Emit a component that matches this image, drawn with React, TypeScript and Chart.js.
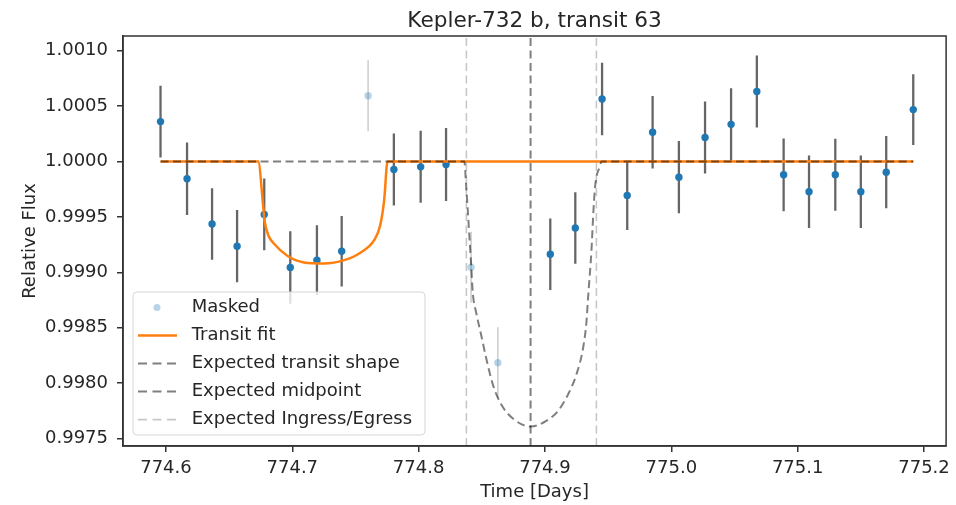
import React, { useEffect, useRef } from "react";
import { Chart, registerables } from "chart.js";

Chart.register(...registerables);

const TITLE = "Kepler-732 b, transit 63";
const X_LABEL = "Time [Days]";
const Y_LABEL = "Relative Flux";

const LABEL_MASKED = "Masked";
const LABEL_FIT = "Transit fit";
const LABEL_SHAPE = "Expected transit shape";
const LABEL_MID = "Expected midpoint";
const LABEL_INGRESS = "Expected Ingress/Egress";

// Observed (unmasked) points
const obsTime = [
  774.5957, 774.6167, 774.6365, 774.6563, 774.6778, 774.6984, 774.7195, 774.7391,
  774.7804, 774.8016, 774.8217, 774.9042, 774.924, 774.9452, 774.9651, 774.9852,
  775.006, 775.0267, 775.0473, 775.0677, 775.0889, 775.109, 775.1298, 775.15,
  775.1701, 775.1915,
];
const obsFlux = [
  1.00036, 0.999844, 0.999436, 0.999236, 0.999523, 0.999044, 0.99911, 0.999191,
  0.999928, 0.999952, 0.999973, 0.999164, 0.9994, 1.000564, 0.999694, 1.000264,
  0.999859, 1.000216, 1.000335, 1.000632, 0.99988, 0.999727, 0.99988, 0.999727,
  0.999904, 1.000468,
];
const obsErr = [
  0.000324, 0.000327, 0.000322, 0.000326, 0.000323, 0.000326, 0.000315, 0.000318,
  0.000325, 0.000325, 0.000329, 0.000322, 0.000322, 0.000327, 0.000312, 0.000327,
  0.000325, 0.000325, 0.000325, 0.000325, 0.000328, 0.000327, 0.000325, 0.000327,
  0.000325, 0.000318,
];

// Masked points
const maskTime = [774.76, 774.8415, 774.8627];
const maskFlux = [1.000593, 0.999047, 0.998186];
const maskErr = [0.00032, 0.00032, 0.00032];

// Transit fit curve
const fitTime = [
  774.5957, 774.673, 774.677, 774.678, 774.6812, 774.6854, 774.696, 774.7092,
  774.7251, 774.741, 774.7542, 774.7648, 774.7695, 774.7727, 774.7754, 775.1915,
];
const fitFlux = [
  1.0, 1.0, 0.99959, 0.99947, 0.99933, 0.99926, 0.99915, 0.99909,
  0.99908, 0.99911, 0.99918, 0.99929, 0.99942, 0.99965, 1.0, 1.0,
];

// Expected transit shape
const shapeTime = [
  774.5957, 774.8362, 774.8375, 774.8389, 774.8402, 774.8415, 774.8429, 774.8455,
  774.8494, 774.8534, 774.8587, 774.8653, 774.8759, 774.8886, 774.901, 774.9103,
  774.9183, 774.9249, 774.9302, 774.9328, 774.9341, 774.9368, 774.9381, 774.9394,
  774.9407, 774.9433, 774.9447, 775.1915,
];
const shapeFlux = [
  1.0, 1.0, 0.9998, 0.99956, 0.99932, 0.99908, 0.99881, 0.99864,
  0.99844, 0.99823, 0.99799, 0.99781, 0.99767, 0.99761, 0.99766, 0.99775,
  0.9979, 0.99808, 0.99832, 0.99855, 0.99877, 0.9992, 0.9995, 0.99974,
  0.99986, 0.99995, 1.0, 1.0,
];

const MIDPOINT = 774.8886;
const INGRESS = 774.8378;
const EGRESS = 774.9407;

const X_MIN = 774.566;
const X_MAX = 775.2175;
const Y_MIN = 0.997434;
const Y_MAX = 1.001132;

const xTicks = [774.6, 774.7, 774.8, 774.9, 775.0, 775.1, 775.2];
const yTicks = [0.9975, 0.998, 0.9985, 0.999, 0.9995, 1.0, 1.0005, 1.001];

const FONT = "'DejaVu Sans', sans-serif";
const TEXT = "#262626";
const BLUE = "#1f77b4";
const MASK_BLUE = "rgba(31,119,180,0.32)";
const ORANGE = "#ff7f0e";
const DARK_DASH = "rgba(0,0,0,0.5)";
const LIGHT_DASH = "rgba(0,0,0,0.22)";
const ERR = "rgba(0,0,0,0.6)";
const MASK_ERR = "rgba(0,0,0,0.22)";

const pts = (t: number[], f: number[]) => t.map((x, i) => ({ x, y: f[i] }));
const errSegs = (t: number[], f: number[], e: number[]) => {
  const out: { x: number; y: number | null }[] = [];
  t.forEach((x, i) => {
    out.push({ x, y: f[i] - e[i] }, { x, y: f[i] + e[i] }, { x, y: null });
  });
  return out;
};
const vline = (x: number) => [
  { x, y: Y_MIN },
  { x, y: Y_MAX },
];

const decorPlugin = {
  id: "decor",
  afterDraw(chart: any) {
    const { ctx, chartArea: a } = chart;
    ctx.save();
    // frame
    ctx.strokeStyle = "#333";
    ctx.lineWidth = 1.5;
    ctx.setLineDash([]);
    ctx.strokeRect(a.left, a.top, a.right - a.left, a.bottom - a.top);

    // title
    const cx = (a.left + a.right) / 2;
    ctx.fillStyle = TEXT;
    ctx.textAlign = "center";
    ctx.textBaseline = "alphabetic";
    ctx.font = `21.6px ${FONT}`;
    ctx.fillText(TITLE, cx, 27);
    // x label
    ctx.font = `18px ${FONT}`;
    ctx.fillText(X_LABEL, cx, 497);
    // y label
    ctx.save();
    ctx.translate(35, (a.top + a.bottom) / 2);
    ctx.rotate(-Math.PI / 2);
    ctx.fillText(Y_LABEL, 0, 0);
    ctx.restore();

    // legend
    const lx = a.left + 10;
    const lw = 292;
    const lh = 143;
    const ly = a.bottom - 11 - lh;
    ctx.beginPath();
    ctx.roundRect(lx, ly, lw, lh, 4);
    ctx.fillStyle = "rgba(255,255,255,0.8)";
    ctx.fill();
    ctx.strokeStyle = "#d6d6d6";
    ctx.lineWidth = 1;
    ctx.stroke();

    const entries = [
      { label: LABEL_MASKED, kind: "dot" },
      { label: LABEL_FIT, kind: "line", color: ORANGE, width: 2.5, dash: [] },
      { label: LABEL_SHAPE, kind: "line", color: DARK_DASH, width: 2, dash: [9, 5.5] },
      { label: LABEL_MID, kind: "line", color: DARK_DASH, width: 2, dash: [9, 5.5] },
      { label: LABEL_INGRESS, kind: "line", color: LIGHT_DASH, width: 1.6, dash: [9, 5.5] },
    ];
    entries.forEach((en: any, i: number) => {
      const ry = ly + 15.6 + i * 28;
      if (en.kind === "dot") {
        ctx.beginPath();
        ctx.arc(lx + 24, ry, 3.5, 0, Math.PI * 2);
        ctx.fillStyle = MASK_BLUE;
        ctx.fill();
      } else {
        ctx.beginPath();
        ctx.setLineDash(en.dash);
        ctx.strokeStyle = en.color;
        ctx.lineWidth = en.width;
        ctx.moveTo(lx + 5, ry);
        ctx.lineTo(lx + 44, ry);
        ctx.stroke();
        ctx.setLineDash([]);
      }
      ctx.fillStyle = TEXT;
      ctx.font = `18px ${FONT}`;
      ctx.textAlign = "left";
      ctx.textBaseline = "middle";
      ctx.fillText(en.label, lx + 58.7, ry);
    });
    ctx.restore();
  },
};

export default function App() {
  const ref = useRef<HTMLCanvasElement | null>(null);

  useEffect(() => {
    if (!ref.current) return;
    const chart = new Chart(ref.current, {
      type: "line",
      data: {
        datasets: [
          {
            label: LABEL_MID,
            data: vline(MIDPOINT),
            borderColor: DARK_DASH,
            borderWidth: 2,
            borderDash: [8, 4.5],
            pointRadius: 0,
            order: 0,
          } as any,
          {
            label: LABEL_INGRESS,
            data: vline(INGRESS),
            borderColor: LIGHT_DASH,
            borderWidth: 1.6,
            borderDash: [8, 4.5],
            pointRadius: 0,
            order: 1,
          },
          {
            label: LABEL_INGRESS + " (egress)",
            data: vline(EGRESS),
            borderColor: LIGHT_DASH,
            borderWidth: 1.6,
            borderDash: [8, 4.5],
            pointRadius: 0,
            order: 1,
          },
          {
            label: LABEL_SHAPE,
            data: pts(shapeTime, shapeFlux),
            borderColor: DARK_DASH,
            borderWidth: 2,
            borderDash: [8, 4.5],
            pointRadius: 0,
            cubicInterpolationMode: "monotone",
            order: 2,
          },
          {
            label: LABEL_FIT,
            data: pts(fitTime, fitFlux),
            borderColor: ORANGE,
            borderWidth: 2.5,
            pointRadius: 0,
            cubicInterpolationMode: "monotone",
            order: 3,
          },
          {
            label: "Data",
            data: pts(obsTime, obsFlux),
            showLine: false,
            pointRadius: 3.7,
            pointBorderWidth: 0,
            pointBackgroundColor: BLUE,
            borderColor: BLUE,
            order: 4,
          },
          {
            label: LABEL_MASKED,
            data: pts(maskTime, maskFlux),
            showLine: false,
            pointRadius: 3.7,
            pointBorderWidth: 0,
            pointBackgroundColor: MASK_BLUE,
            borderColor: MASK_BLUE,
            order: 5,
          },
          {
            label: "Data errors",
            data: errSegs(obsTime, obsFlux, obsErr),
            borderColor: ERR,
            borderWidth: 2.3,
            pointRadius: 0,
            spanGaps: false,
            order: 6,
          },
          {
            label: "Masked errors",
            data: errSegs(maskTime, maskFlux, maskErr),
            borderColor: MASK_ERR,
            borderWidth: 1.4,
            pointRadius: 0,
            spanGaps: false,
            order: 7,
          },
        ],
      },
      options: {
        responsive: false,
        animation: false,
        events: [],
        layout: { padding: { left: 0, right: 9, top: 36, bottom: 0 } },
        plugins: {
          legend: { display: false },
          tooltip: { enabled: false },
          title: { display: false },
        },
        scales: {
          x: {
            type: "linear",
            min: X_MIN,
            max: X_MAX,
            afterBuildTicks: (s: any) => {
              s.ticks = xTicks.map((v) => ({ value: v }));
            },
            afterFit: (s: any) => {
              s.height = 59;
            },
            grid: {
              display: true,
              drawOnChartArea: false,
              drawTicks: true,
              tickLength: 6,
              color: "#333",
              lineWidth: 1.5,
            },
            border: { display: true, color: "#333", width: 1.5 },
            ticks: {
              font: { family: FONT, size: 18 },
              color: TEXT,
              padding: 6,
              maxRotation: 0,
              autoSkip: false,
              callback: (v: any) => Number(v).toFixed(1),
            },
          },
          y: {
            type: "linear",
            min: Y_MIN,
            max: Y_MAX,
            afterBuildTicks: (s: any) => {
              s.ticks = yTicks.map((v) => ({ value: v }));
            },
            afterFit: (s: any) => {
              s.width = 123;
            },
            grid: {
              display: true,
              drawOnChartArea: false,
              drawTicks: true,
              tickLength: 6,
              color: "#333",
              lineWidth: 1.5,
            },
            border: { display: true, color: "#333", width: 1.5 },
            ticks: {
              font: { family: FONT, size: 18 },
              color: TEXT,
              padding: 9,
              autoSkip: false,
              callback: (v: any) => Number(v).toFixed(4),
            },
          },
        },
      },
      plugins: [decorPlugin],
    });
    return () => chart.destroy();
  }, []);

  return (
    <div style={{ position: "absolute", left: 0, top: 0, width: 956, height: 505, background: "#fff" }}>
      <canvas ref={ref} width={956} height={505} style={{ width: 956, height: 505, display: "block" }} />
    </div>
  );
}
